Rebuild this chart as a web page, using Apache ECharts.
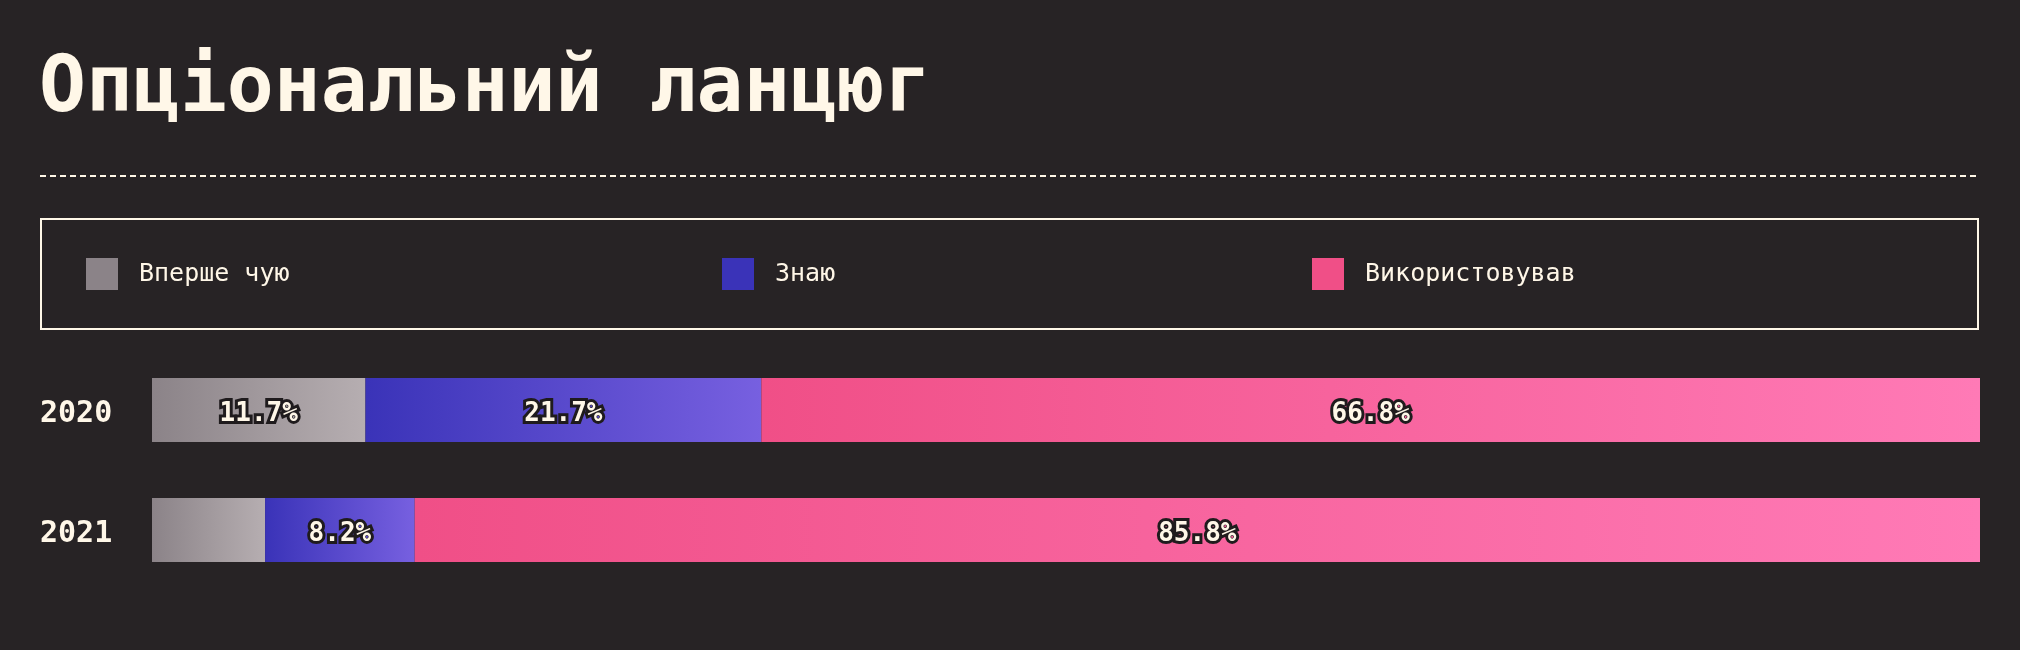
<!DOCTYPE html>
<html>
<head>
<meta charset="utf-8">
<script src="https://cdn.jsdelivr.net/npm/echarts@6/dist/echarts.min.js"></script>
<style>
html,body{margin:0;padding:0;background:#272325;}
#chart{width:2020px;height:650px;}
</style>
</head>
<body>
<div id="chart"></div>
<script>
const titleText = 'Опціональний ланцюг';
const years = ['2020', '2021'];
const seriesNames = ['Вперше чую', 'Знаю', 'Використовував'];
const firstHear = [11.7, 6.2];
const know = [21.7, 8.2];
const used = [66.8, 85.8];

const cream = '#fff7e8';
const bg = '#272325';
const solidColors = ['#8b8388', '#3a33b8', '#f04f87'];
const gradStops = [['#8b8388', '#b6aeb1'], ['#3a33b8', '#7760e0'], ['#f04f87', '#ff7ab6']];
const labelMin = 7;

const values = [firstHear, know, used];
const totals = years.map((_, i) => values.reduce((s, arr) => s + arr[i], 0));
const axisMax = Math.max(...totals);

const chart = echarts.init(document.getElementById('chart'), null, {renderer: 'canvas'});

const legendLefts = [86, 722, 1312];

const option = {
  backgroundColor: bg,
  animation: false,
  title: {
    text: titleText,
    left: 39,
    top: 52,
    padding: 0,
    textStyle: {
      color: cream,
      fontFamily: 'DejaVu Sans Mono',
      fontWeight: 'bold',
      fontSize: 78
    }
  },
  legend: seriesNames.map((n, i) => ({
    left: legendLefts[i],
    top: 258,
    padding: 0,
    itemWidth: 32,
    itemHeight: 32,
    icon: 'rect',
    selectedMode: false,
    data: [{name: n, itemStyle: {color: solidColors[i]}}],
    textStyle: {
      color: cream,
      fontFamily: 'DejaVu Sans Mono',
      fontSize: 25,
      padding: [0, 0, 0, 16]
    }
  })),
  graphic: [
    {
      type: 'line',
      shape: {x1: 40, y1: 176, x2: 1980, y2: 176},
      style: {stroke: cream, lineWidth: 2, lineDash: [6, 4]}
    },
    {
      type: 'rect',
      shape: {x: 41, y: 219, width: 1937, height: 110},
      style: {fill: 'none', stroke: cream, lineWidth: 2}
    }
  ],
  grid: {left: 152, right: 40, top: 350, bottom: 60},
  xAxis: {
    type: 'value',
    min: 0,
    max: axisMax,
    show: false
  },
  yAxis: {
    type: 'category',
    data: years,
    inverse: true,
    axisLine: {show: false},
    axisTick: {show: false},
    splitLine: {show: false},
    axisLabel: {
      align: 'left',
      margin: 112,
      formatter: '{y|{value}}',
      rich: {
        y: {
          color: cream,
          fontFamily: 'DejaVu Sans Mono',
          fontWeight: 'bold',
          fontSize: 30,
          padding: [8, 0, 0, 0]
        }
      }
    }
  },
  series: seriesNames.map((n, i) => ({
    name: n,
    type: 'bar',
    stack: 'total',
    barWidth: 64,
    itemStyle: {
      color: new echarts.graphic.LinearGradient(0, 0, 1, 0, [
        {offset: 0, color: gradStops[i][0]},
        {offset: 1, color: gradStops[i][1]}
      ])
    },
    label: {
      show: true,
      position: 'inside',
      offset: [0, 4],
      formatter: p => p.value >= labelMin ? p.value + '%' : '',
      color: cream,
      fontFamily: 'DejaVu Sans Mono',
      fontWeight: 'bold',
      fontSize: 26,
      textBorderColor: '#1f1b1d',
      textBorderWidth: 6
    },
    data: values[i]
  }))
};
chart.setOption(option);
</script>
</body>
</html>
